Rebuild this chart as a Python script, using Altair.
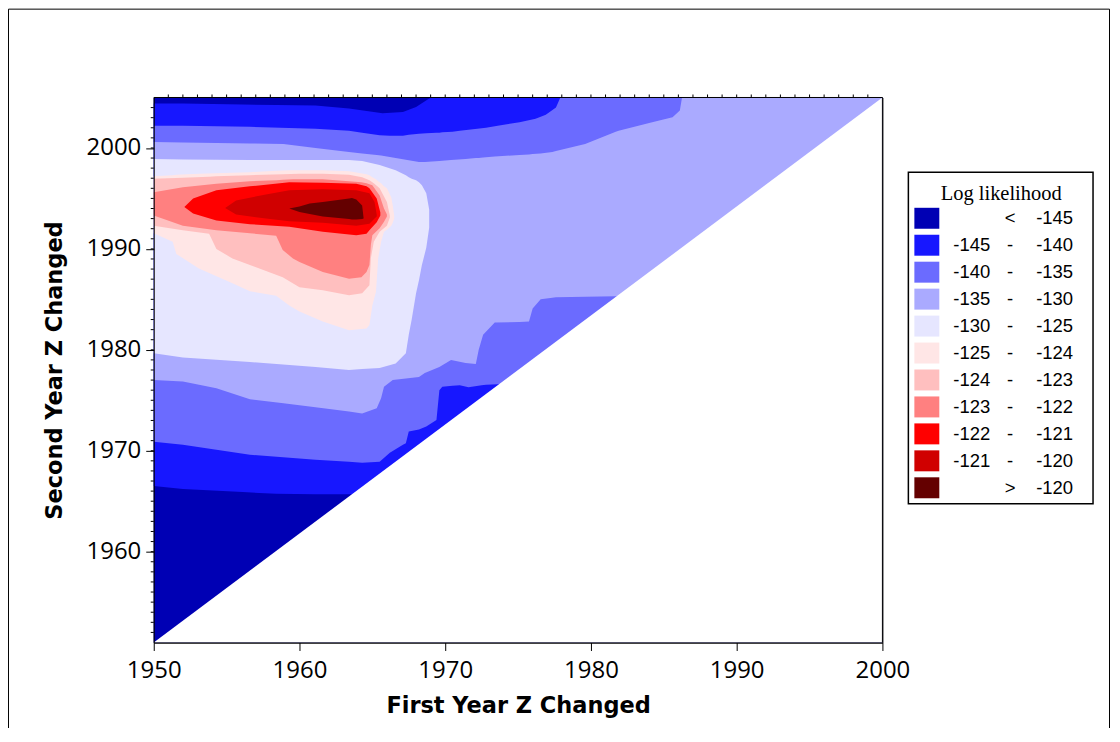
import altair as alt
import pandas as pd

# ---------------- data (years) ----------------
X_DOMAIN = [1950, 2000]
Y_DOMAIN = [1951, 2005]
X_TICKS = [1950, 1960, 1970, 1980, 1990, 2000]
Y_TICKS = [1960, 1970, 1980, 1990, 2000]
X_MINOR = list(range(1951, 2000))
Y_MINOR = list(range(1952, 2005))

LEVEL_COLORS = ["#0000B4", "#1717FF", "#6B6BFF", "#AAAAFF", "#E6E6FF", "#FFE6E6",
                "#FFBFBF", "#FF8080", "#FF0000", "#D00000", "#640000"]
LEGEND_LOW = ["", "-145", "-140", "-135", "-130", "-125", "-124", "-123", "-122", "-121", ""]
LEGEND_SEP = ["<", "-", "-", "-", "-", "-", "-", "-", "-", "-", ">"]
LEGEND_HIGH = ["-145", "-140", "-135", "-130", "-125", "-124", "-123", "-122", "-121", "-120", "-120"]
LEGEND_TITLE = "Log likelihood"

# region where LL >= -145  (x, lower edge, upper edge)
L1_X = [1950, 1952, 1956.1, 1958.4, 1961.1, 1963.4, 1965.7, 1967.1, 1968.0, 1968.9, 1969.1, 2000]
L1_LO = [1966.5, 1966.2, 1965.9, 1965.75, 1965.7, 1965.7, 1965.7, 1965.7, 1965.7, 1965.7, 1965.7, 1965.7]
L1_HI = [2004.4, 2004.4, 2004.3, 2004.25, 2004.2, 2003.9, 2003.45, 2003.55, 2004.05, 2004.9, 2005, 2005]

# LL >= -140
L2_X = [1950, 1952, 1956.6, 1961.1, 1963.4, 1964.3, 1965.5, 1966.2, 1967.1, 1967.3, 1967.5, 1968.2,
        1968.7, 1969.4, 1969.6, 1969.8, 1970.5, 1971.0, 1971.6, 1972.5, 1972.8, 1973.6, 1975.1,
        1976.2, 1976.9, 1977.6, 1977.9, 2000]
L2_LO = [1970.9, 1970.6, 1969.6, 1969.1, 1968.9, 1968.8, 1968.9, 1969.8, 1970.6, 1970.75, 1971.9, 1972.1,
         1972.4, 1973.05, 1976.0, 1976.35, 1976.45, 1976.5, 1976.3, 1976.5, 1976.55, 1976.6, 1976.6,
         1976.6, 1976.6, 1976.6, 1976.6, 1976.6]
L2_HI = [2002.2, 2002.2, 2002.1, 2001.9, 2001.7, 2001.5, 2001.25, 2001.2, 2001.2, 2001.25, 2001.3, 2001.4,
         2001.45, 2001.5, 2001.5, 2001.55, 2001.6, 2001.7, 2001.8, 2001.95, 2002.0, 2002.2, 2002.55,
         2002.9, 2003.3, 2004.0, 2005, 2005]

# LL >= -135
L3_X = [1950, 1952, 1954.3, 1956.6, 1958.9, 1961.1, 1963.4, 1964.3, 1965.3, 1965.6, 1965.8, 1966.4,
        1968.2, 1968.6, 1969.6, 1970.4, 1971.4, 1972.1, 1972.3, 1972.6, 1973.4, 1975.1, 1975.75,
        1976.0, 1976.55, 1977.35, 1977.6, 1979.6, 1981.7, 1981.9, 1984.2, 1985.6, 1986.1, 1986.25, 2000]
L3_LO = [1977.0, 1976.85, 1976.2, 1975.1, 1974.7, 1974.3, 1973.9, 1973.7, 1974.2, 1975.2, 1976.35, 1977.0,
         1977.3, 1977.7, 1978.3, 1979.0, 1978.7, 1978.6, 1980.0, 1981.5, 1982.7, 1982.75, 1982.8,
         1984.1, 1985.0, 1985.15, 1985.2, 1985.25, 1985.3, 1985.3, 1985.3, 1985.3, 1985.3, 1985.3, 1985.3]
L3_HI = [2000.6, 2000.55, 2000.5, 2000.45, 2000.4, 2000.0, 1999.6, 1999.45, 1999.3, 1999.25, 1999.2, 1999.05,
         1998.6, 1998.6, 1998.7, 1998.8, 1998.9, 1999.0, 1999.0, 1999.05, 1999.15, 1999.3, 1999.35,
         1999.4, 1999.45, 1999.6, 1999.7, 2000.4, 2001.6, 2001.7, 2002.55, 2003.05, 2003.7, 2005, 2005]

# LL >= -130
L4_X = [1950.0, 1952.0, 1956.6, 1961.1, 1963.4, 1964.3, 1965.5, 1966.6, 1967.3, 1967.5, 1967.7, 1968.0,
        1968.2, 1968.4, 1968.7, 1968.9]
L4_LO = [1979.65, 1979.25, 1978.8, 1978.3, 1978.0, 1978.1, 1978.2, 1978.65, 1979.65, 1981.5, 1983.0, 1985.6,
         1986.9, 1988.4, 1990.1, 1992.1]
L4_HI = [1998.9, 1998.85, 1998.8, 1998.8, 1998.8, 1998.7, 1998.3, 1997.8, 1997.3, 1997.1, 1996.95, 1996.8,
         1996.6, 1996.3, 1995.5, 1993.9]

# LL >= -125
L5_X = [1950.0, 1951.3, 1951.55, 1953.1, 1955.4, 1956.6, 1958.4, 1959.3, 1960.0, 1961.6, 1963.4, 1964.6,
        1964.8, 1965.0, 1965.25, 1965.4, 1965.6, 1965.8, 1966.0, 1966.3, 1966.4, 1966.5]
L5_LO = [1991.55, 1990.7, 1989.5, 1988.05, 1986.6, 1985.8, 1985.35, 1984.4, 1983.8, 1982.8, 1981.95, 1982.1,
         1982.45, 1984.4, 1985.75, 1989.05, 1990.7, 1991.7, 1991.9, 1992.3, 1992.6, 1993.0]
L5_HI = [1997.2, 1997.3, 1997.35, 1997.45, 1997.55, 1997.6, 1997.75, 1997.8, 1997.8, 1997.8, 1997.7, 1997.4,
         1997.3, 1997.1, 1996.9, 1996.7, 1996.5, 1996.2, 1996.0, 1995.1, 1994.3, 1993.3]

# LL >= -124
L6_X = [1950.0, 1952.0, 1953.8, 1954.3, 1955.4, 1956.6, 1958.85, 1960.0, 1961.6, 1963.4, 1964.3, 1964.8,
        1964.9, 1965.1, 1965.5, 1966.0, 1966.2]
L6_LO = [1992.3, 1991.85, 1991.5, 1990.0, 1989.05, 1988.4, 1987.2, 1986.2, 1985.9, 1985.4, 1985.6, 1986.4,
         1989.1, 1990.7, 1991.7, 1992.3, 1993.1]
L6_HI = [1996.95, 1997.05, 1997.15, 1997.2, 1997.25, 1997.3, 1997.4, 1997.45, 1997.45, 1997.35, 1997.1, 1996.8,
         1996.7, 1996.5, 1996.0, 1994.65, 1993.3]

# LL >= -123
L7_X = [1950.0, 1952.0, 1954.3, 1956.6, 1958.4, 1958.85, 1959.55, 1960.0, 1961.6, 1963.4, 1964.25, 1964.6,
        1964.8, 1964.9, 1965.0, 1965.5, 1965.8, 1966.0]
L7_LO = [1993.3, 1992.3, 1991.85, 1991.55, 1991.3, 1989.9, 1989.05, 1988.7, 1987.7, 1987.05, 1987.2, 1987.7,
         1988.4, 1990.4, 1991.35, 1992.05, 1992.7, 1993.2]
L7_HI = [1995.6, 1996.1, 1996.45, 1996.7, 1996.8, 1996.85, 1996.9, 1996.9, 1996.9, 1996.7, 1996.6, 1996.5,
         1996.4, 1996.35, 1996.3, 1995.3, 1994.0, 1993.4]

# LL >= -122
L8_X = [1952.1, 1952.7, 1954.3, 1956.6, 1959.3, 1961.6, 1963.9, 1964.6, 1964.8, 1965.3, 1965.55]
L8_LO = [1994.15, 1993.5, 1992.8, 1992.45, 1992.2, 1991.7, 1991.35, 1991.5, 1991.85, 1992.65, 1993.3]
L8_HI = [1994.15, 1995.0, 1995.8, 1996.2, 1996.6, 1996.55, 1996.45, 1996.2, 1996.0, 1995.0, 1993.6]

# LL >= -121
L9_X = [1954.9, 1955.65, 1957.7, 1959.3, 1961.6, 1963.9, 1964.8, 1965.15, 1965.3]
L9_LO = [1994.05, 1993.4, 1993.0, 1992.75, 1992.6, 1992.3, 1992.5, 1993.0, 1993.2]
L9_HI = [1994.05, 1994.8, 1995.4, 1995.8, 1995.9, 1995.8, 1995.5, 1994.65, 1993.4]

# LL >= -120
L10_X = [1959.3, 1960.0, 1960.7, 1961.6, 1963.4, 1963.6, 1963.9, 1964.3, 1964.4]
L10_LO = [1994.0, 1993.65, 1993.45, 1993.2, 1992.95, 1992.9, 1992.9, 1992.95, 1993.0]
L10_HI = [1994.0, 1994.2, 1994.5, 1994.65, 1995.0, 1995.05, 1994.9, 1994.3, 1993.05]

# second year must come after the first: area below the diagonal is empty
DIAG_X = [1950, 2000]
DIAG_Y = [1951, 2005]

LEVELS = [(L1_X, L1_LO, L1_HI), (L2_X, L2_LO, L2_HI), (L3_X, L3_LO, L3_HI),
          (L4_X, L4_LO, L4_HI), (L5_X, L5_LO, L5_HI), (L6_X, L6_LO, L6_HI),
          (L7_X, L7_LO, L7_HI), (L8_X, L8_LO, L8_HI), (L9_X, L9_LO, L9_HI),
          (L10_X, L10_LO, L10_HI)]

# ---------------- chart ----------------
LABEL_FONT = "Open Sans"
TITLE_FONT = "DejaVu Sans"

xs = alt.Scale(domain=X_DOMAIN, nice=False, zero=False)
ys = alt.Scale(domain=Y_DOMAIN, nice=False, zero=False)

x_axis = alt.Axis(values=X_TICKS, format="d", grid=False, tickSize=8, tickColor="black",
                  domainColor="black", labelColor="black", labelFont=LABEL_FONT, labelFontSize=24,
                  labelPadding=8, labelFlush=False, titleFont=TITLE_FONT, titleFontSize=22.5,
                  titleFontWeight="bold", titleColor="black", titlePadding=12, zindex=1)
y_axis = alt.Axis(values=Y_TICKS, format="d", grid=False, tickSize=8, tickColor="black",
                  domainColor="black", labelColor="black", labelFont=LABEL_FONT, labelFontSize=24,
                  labelPadding=5, labelFlush=False, titleFont=TITLE_FONT, titleFontSize=22.5,
                  titleFontWeight="bold", titleColor="black", titlePadding=20, zindex=1)

X_ENC = alt.X("x:Q", scale=xs, axis=x_axis, title="First Year Z Changed")
Y_ENC = alt.Y("lo:Q", scale=ys, axis=y_axis, title="Second Year Z Changed")

bg_df = pd.DataFrame({"x": [X_DOMAIN[0]], "x2": [X_DOMAIN[1]],
                      "lo": [Y_DOMAIN[0]], "hi": [Y_DOMAIN[1]]})
background = alt.Chart(bg_df).mark_rect(color=LEVEL_COLORS[0]).encode(
    x=X_ENC, x2="x2:Q", y=Y_ENC, y2="hi:Q")

layers = [background]
for i, (lx, llo, lhi) in enumerate(LEVELS):
    df = pd.DataFrame({"x": lx, "lo": llo, "hi": lhi})
    layers.append(
        alt.Chart(df).mark_area(color=LEVEL_COLORS[i + 1], interpolate="linear").encode(
            x=X_ENC, y=Y_ENC, y2="hi:Q")
    )

tri_df = pd.DataFrame({"x": DIAG_X, "lo": [Y_DOMAIN[0], Y_DOMAIN[0]], "hi": DIAG_Y})
layers.append(alt.Chart(tri_df).mark_area(color="white").encode(x=X_ENC, y=Y_ENC, y2="hi:Q"))

# plot frame (top and right edges) and minor yearly ticks
edge_df = pd.DataFrame({"x": [X_DOMAIN[1]], "x2": [X_DOMAIN[0]],
                        "lo": [Y_DOMAIN[0]], "hi": [Y_DOMAIN[1]]})
layers.append(alt.Chart(edge_df).mark_rule(color="black", strokeWidth=1).encode(
    x=X_ENC, y=Y_ENC, y2="hi:Q"))
layers.append(alt.Chart(edge_df).mark_rule(color="black", strokeWidth=1).encode(
    x=X_ENC, x2="x2:Q", y=alt.Y("hi:Q", scale=ys, axis=y_axis, title="Second Year Z Changed")))
layers.append(alt.Chart(pd.DataFrame({"x": X_MINOR})).mark_rule(color="black", strokeWidth=1).encode(
    x=X_ENC, y=alt.value(-3), y2=alt.value(0)))
layers.append(alt.Chart(pd.DataFrame({"lo": Y_MINOR})).mark_rule(color="black", strokeWidth=1).encode(
    y=Y_ENC, x=alt.value(-3), x2=alt.value(0)))

main = alt.layer(*layers)

# ---------------- legend (manual, to get the three-column labels) ----------------
leg_df = pd.DataFrame({"row": list(range(len(LEGEND_HIGH))), "col": LEVEL_COLORS,
                       "low": LEGEND_LOW, "sep": LEGEND_SEP, "high": LEGEND_HIGH})
leg_y = alt.Y("row:Q", scale=alt.Scale(domain=[0, 10], range=[121, 391]), axis=None)
one = pd.DataFrame({"t": [LEGEND_TITLE]})

leg_box = alt.Chart(one).mark_rect(fill="white", stroke="black", strokeWidth=1.5).encode(
    x=alt.value(756), x2=alt.value(941), y=alt.value(75), y2=alt.value(407))
leg_title = alt.Chart(one).mark_text(font="Liberation Serif", fontSize=20.5, align="center",
                                     baseline="alphabetic", color="black").encode(
    x=alt.value(849), y=alt.value(103), text="t:N")
leg_sw = alt.Chart(leg_df).mark_point(shape="M-1.19,-1L1.19,-1L1.19,1L-1.19,1Z", filled=True,
                                      size=441, opacity=1, strokeWidth=0).encode(
    x=alt.value(774.5), y=leg_y, color=alt.Color("col:N", scale=None))
leg_low = alt.Chart(leg_df).mark_text(font="Liberation Sans", fontSize=18.5, align="right",
                                      baseline="middle", color="black").encode(
    x=alt.value(838), y=leg_y, text="low:N")
leg_sep = alt.Chart(leg_df).mark_text(font="Liberation Sans", fontSize=18.5, align="center",
                                      baseline="middle", color="black").encode(
    x=alt.value(858), y=leg_y, text="sep:N")
leg_high = alt.Chart(leg_df).mark_text(font="Liberation Sans", fontSize=18.5, align="right",
                                       baseline="middle", color="black").encode(
    x=alt.value(921), y=leg_y, text="high:N")

# outer figure frame
frame_top = alt.Chart(one).mark_rule(color="black", strokeWidth=1).encode(
    x=alt.value(-145.5), x2=alt.value(957.5), y=alt.value(-88.5))
frame_left = alt.Chart(one).mark_rule(color="black", strokeWidth=1).encode(
    x=alt.value(-145.5), y=alt.value(-88.5), y2=alt.value(640))
frame_right = alt.Chart(one).mark_rule(color="black", strokeWidth=1).encode(
    x=alt.value(957.5), y=alt.value(-88.5), y2=alt.value(640))

legend = alt.layer(leg_box, leg_title, leg_sw, leg_low, leg_sep, leg_high,
                   frame_top, frame_left, frame_right)

chart = alt.layer(main, legend).resolve_scale(y="independent").properties(
    width=730, height=546,
    autosize=alt.AutoSizeParams(type="none"),
    padding={"left": 146, "top": 89, "right": 230, "bottom": 85},
    background="white",
).configure_view(stroke="black", strokeWidth=1)

chart.save("out.html", embed_options={"renderer": "svg", "actions": False})
